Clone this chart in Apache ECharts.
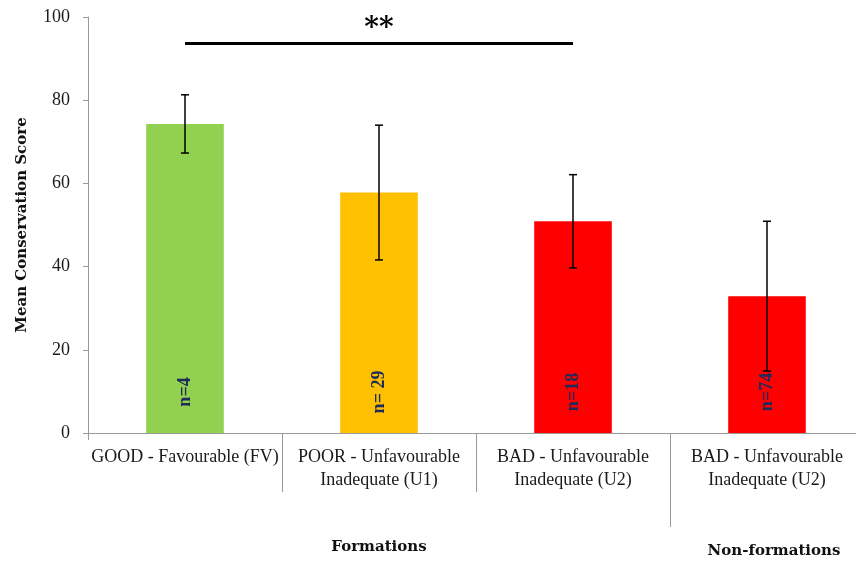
<!DOCTYPE html>
<html>
<head>
<meta charset="utf-8">
<script src="https://cdn.jsdelivr.net/npm/echarts@6/dist/echarts.min.js"></script>
<style>
  html, body { margin: 0; padding: 0; background: #fff; }
  #main { width: 856px; height: 561px; }
</style>
</head>
<body>
<div id="main"></div>
<script>
// data
const categories = [
  'GOOD - Favourable (FV)',
  'POOR - Unfavourable\nInadequate (U1)',
  'BAD - Unfavourable\nInadequate (U2)',
  'BAD - Unfavourable\nInadequate (U2)'
]
const groupLabels = ['', 'Formations', '', 'Non-formations']
const means = [74.3, 57.8, 50.9, 32.9]
const errors = [7.0, 16.2, 11.2, 18.0]
const nLabels = ['n=4', 'n= 29', 'n=18', 'n=74']
const barColors = ['#92D050', '#FFC000', '#FF0000', '#FF0000']
const sigFrom = 0
const sigTo = 2
const sigLevel = 93.6
const sigText = '**'

const axisGray = '#9a9a9a'
const serif = 'Liberation Serif'

var myChart = echarts.init(document.getElementById('main'))

const errorData = means.map((m, i) => [i, m - errors[i], m + errors[i]])
// one slot per category boundary (used for the separator ticks)
const boundaries = new Array(categories.length + 1).fill('')

// helper for axes that only carry a tick on some boundary
function boundaryAxis(showAt, length, inside, offset) {
  return {
    type: 'category',
    data: boundaries,
    boundaryGap: false,
    position: 'bottom',
    offset: offset,
    axisLine: { show: false },
    axisLabel: { show: false },
    axisTick: {
      show: true,
      inside: inside,
      length: length,
      interval: (i) => i === showAt,
      lineStyle: { color: axisGray }
    }
  }
}

myChart.setOption({
  animation: false,
  // the plot runs a little past the right edge of the picture
  grid: { left: 88, width: 776, top: 17, bottom: 128, containLabel: false, outerBoundsMode: 'none' },
  xAxis: [{
    type: 'category',
    data: categories,
    axisLine: { lineStyle: { color: axisGray } },
    axisTick: {
      show: true,
      alignWithLabel: false,
      length: 59,
      interval: (i) => i === 1 || i === 2,
      lineStyle: { color: axisGray }
    },
    axisLabel: {
      interval: 0,
      margin: 13,
      fontFamily: serif,
      fontSize: 18,
      lineHeight: 23,
      color: '#1a1a1a'
    }
  }, {
    // lower level: group names
    type: 'category',
    data: groupLabels.map((g, i) => i === 3
      ? { value: g, textStyle: { padding: [4, 0, 0, 14] } }
      : g),
    position: 'bottom',
    offset: 94,
    axisLine: { show: false },
    axisTick: { show: false },
    axisLabel: {
      interval: 0,
      margin: 13,
      fontFamily: 'DejaVu Serif',
      fontWeight: 'bold',
      fontSize: 15,
      color: '#111'
    }
  },
    boundaryAxis(3, 94, true, 94),   // long separator between the groups
    boundaryAxis(0, 7, false, 0)     // short tick under the origin
  ],
  yAxis: {
    type: 'value',
    min: 0,
    max: 100,
    interval: 20,
    name: 'Mean Conservation Score',
    nameLocation: 'middle',
    nameGap: 58,
    nameTextStyle: {
      fontFamily: 'DejaVu Serif',
      fontWeight: 'bold',
      fontSize: 15,
      color: '#111'
    },
    axisLine: { show: true, lineStyle: { color: axisGray } },
    axisTick: { show: true, length: 5, lineStyle: { color: axisGray } },
    splitLine: { show: false },
    axisLabel: {
      margin: 18,
      fontFamily: serif,
      fontSize: 18,
      color: '#1a1a1a'
    }
  },
  series: [{
    type: 'bar',
    barWidth: '40%',
    data: means.map((v, i) => ({ value: v, itemStyle: { color: barColors[i] } })),
    label: {
      show: true,
      position: 'insideBottom',
      rotate: 90,
      distance: 41,
      align: 'center',
      verticalAlign: 'middle',
      formatter: (p) => nLabels[p.dataIndex],
      fontFamily: serif,
      fontWeight: 'bold',
      fontSize: 18,
      color: '#1c2b5a'
    },
    silent: true,
    markLine: {
      silent: true,
      symbol: ['none', 'none'],
      lineStyle: { color: '#000', width: 3, type: 'solid' },
      label: {
        show: true,
        position: 'middle',
        formatter: sigText,
        distance: 1,
        fontFamily: 'DejaVu Serif',
        fontWeight: 'bold',
        fontSize: 28,
        color: '#000'
      },
      data: [[{ coord: [sigFrom, sigLevel] }, { coord: [sigTo, sigLevel] }]]
    }
  }, {
    type: 'custom',
    silent: true,
    data: errorData,
    renderItem: (params, api) => {
      const x = api.value(0)
      const lo = api.coord([x, api.value(1)])
      const hi = api.coord([x, api.value(2)])
      const cap = 4
      const style = { stroke: '#000', lineWidth: 1.5 }
      return {
        type: 'group',
        children: [
          { type: 'line', shape: { x1: hi[0], y1: hi[1], x2: lo[0], y2: lo[1] }, style },
          { type: 'line', shape: { x1: hi[0] - cap, y1: hi[1], x2: hi[0] + cap, y2: hi[1] }, style },
          { type: 'line', shape: { x1: lo[0] - cap, y1: lo[1], x2: lo[0] + cap, y2: lo[1] }, style }
        ]
      }
    },
    z: 5
  }]
})
</script>
</body>
</html>
